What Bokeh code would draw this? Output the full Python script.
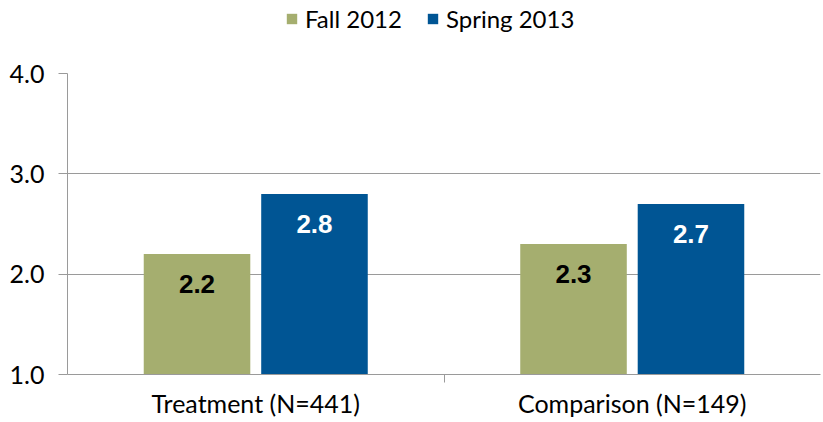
import numpy as np
from bokeh.plotting import figure
from bokeh.layouts import column
from bokeh.core.properties import value
from bokeh.models import ColumnDataSource, Range1d, FixedTicker, Legend, LegendItem, LabelSet, NumeralTickFormatter
from bokeh.embed import file_html
from bokeh.resources import INLINE

categories = ["Treatment (N=441)", "Comparison (N=149)"]
series = ["Fall 2012", "Spring 2013"]
fall = [2.2, 2.3]
spring = [2.8, 2.7]
y_ticks = [1.0, 2.0, 3.0, 4.0]

colors = {"Fall 2012": "#A5AE6F", "Spring 2013": "#005594"}
label_colors = {"Fall 2012": "#000000", "Spring 2013": "#FFFFFF"}

FONT = "Lato"
GRID = "#9A9A9A"
W = 822
LEG_H = 53

centers = np.arange(len(categories)) + 0.5
offset = 0.156
width = 0.283
series_vals = [("Fall 2012", fall, -1), ("Spring 2013", spring, 1)]

# ---- legend strip (bars drawn out of view; only the legend is visible) ----
pl = figure(width=W, height=LEG_H, output_backend="svg", toolbar_location=None,
            x_range=Range1d(0, len(categories)), y_range=Range1d(100, 101))
pl.outline_line_color = None
pl.axis.visible = False
pl.grid.visible = False
pl.min_border = 0
leg_items = []
for name, vals, sign in series_vals:
    r = pl.vbar(x=centers + sign * offset, top=vals, bottom=1.0, width=width,
                fill_color=colors[name], line_color=None)
    leg_items.append(LegendItem(label=name, renderers=[r]))
legend = Legend(items=leg_items, orientation="horizontal", location=(218, 20),
                label_text_font=FONT, label_text_font_size="24px",
                label_text_color="#000000",
                glyph_width=13, glyph_height=13, label_standoff=7, spacing=24,
                border_line_color=None, background_fill_alpha=0,
                padding=0, margin=0)
pl.add_layout(legend)

# ---- main chart ----
p = figure(width=W, height=421 - LEG_H, output_backend="svg", toolbar_location=None,
           x_range=Range1d(0, len(categories)), y_range=Range1d(1.0, 4.0))
p.outline_line_color = None
p.min_border_left = 67
p.min_border_right = 2
p.min_border_top = 73 - LEG_H
p.min_border_bottom = 47

for name, vals, sign in series_vals:
    src = ColumnDataSource(dict(x=centers + sign * offset, top=vals,
                                lab=["%.1f" % v for v in vals]))
    p.vbar(x="x", top="top", bottom=1.0, width=width, source=src,
           fill_color=colors[name], line_color=None)
    labels = LabelSet(x="x", y="top", text="lab", source=src, text_align="center",
                      text_baseline="middle", y_offset=-30,
                      text_font=value("Liberation Sans"), text_font_style="bold",
                      text_font_size="26px", text_color=label_colors[name])
    p.add_layout(labels)

p.xaxis.ticker = FixedTicker(ticks=list(centers), minor_ticks=[1.0])
p.xaxis.major_label_overrides = {float(c): cat for c, cat in zip(centers, categories)}
p.xaxis.major_tick_out = 0
p.xaxis.major_tick_in = 0
p.xaxis.minor_tick_out = 8
p.xaxis.minor_tick_in = 0
p.xaxis.minor_tick_line_color = GRID
p.xaxis.axis_line_color = GRID
p.xaxis.major_label_standoff = 5
p.xaxis.major_label_text_font = FONT
p.xaxis.major_label_text_font_size = "25px"
p.xaxis.major_label_text_color = "#000000"

p.yaxis.ticker = FixedTicker(ticks=y_ticks)
p.yaxis.formatter = NumeralTickFormatter(format="0.0")
p.yaxis.major_tick_out = 9
p.yaxis.major_tick_in = 0
p.yaxis.minor_tick_line_color = None
p.yaxis.major_tick_line_color = GRID
p.yaxis.axis_line_color = GRID
p.yaxis.major_label_standoff = 14
p.yaxis.major_label_text_font = FONT
p.yaxis.major_label_text_font_size = "25px"
p.yaxis.major_label_text_color = "#000000"

p.xgrid.grid_line_color = None
p.ygrid.grid_line_color = GRID
p.ygrid.grid_line_width = 1

layout = column(pl, p, spacing=0)
open("out.html", "w").write(file_html(layout, INLINE))
